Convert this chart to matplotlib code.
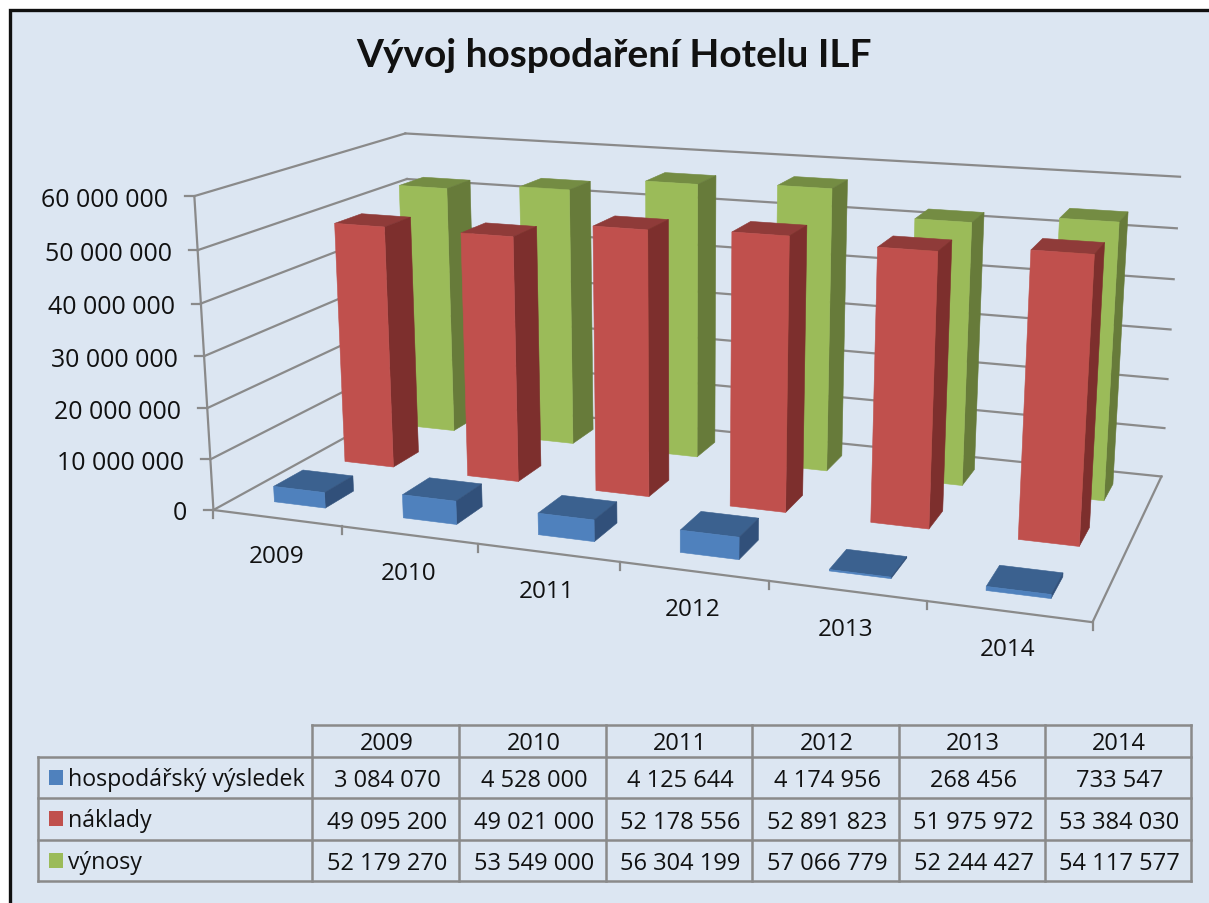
import numpy as np
import matplotlib
matplotlib.use("Agg")
import matplotlib.pyplot as plt
from matplotlib.patches import Polygon, Rectangle

years = ["2009", "2010", "2011", "2012", "2013", "2014"]
vysledek = [3084070, 4528000, 4125644, 4174956, 268456, 733547]
naklady = [49095200, 49021000, 52178556, 52891823, 51975972, 53384030]
vynosy = [52179270, 53549000, 56304199, 57066779, 52244427, 54117577]
series_names = ["hospodářský výsledek", "náklady", "výnosy"]
axis_ticks = [0, 10, 20, 30, 40, 50, 60]
axis_labels = ["0", "10 000 000", "20 000 000", "30 000 000", "40 000 000", "50 000 000", "60 000 000"]
title = "Vývoj hospodaření Hotelu ILF"

FONT = "Open Sans"
BG = "#DCE6F2"
GRID = "#8A8A8A"
FACES = {"front": ["#4F81BD", "#C0504D", "#9BBB59"],
         "top": ["#3B618F", "#8F3B39", "#748C43"],
         "side": ["#31507A", "#7D2F2D", "#677B3A"]}

# Camera calibration: (category, depth, value in millions) -> pixel of the chart frame
CAL = [((0, 0, 0), (213, 510)), ((0, 0, 60), (194, 197)), ((0, 3, 60), (405, 135)),
       ((6, 3, 60), (1180, 178)), ((6, 3, 0), (1161, 477)), ((6, 0, 0), (1092, 621)),
       ((1, 0, 0), (343, 528)), ((2, 0, 0), (477, 547)), ((3, 0, 0), (620, 565)),
       ((5, 0, 0), (927, 603)), ((6, 3, 50), (1177, 229)), ((6, 3, 10), (1165, 429)),
       ((0, 0, 50), (198, 251)), ((0, 0, 10), (211, 458)), ((0, 3, 50), (407, 180))]

rows = []
for (x, y, z), (u, v) in CAL:
    rows.append([x, y, z, 1, 0, 0, 0, 0, -u * x, -u * y, -u * z])
    rows.append([0, 0, 0, 0, x, y, z, 1, -v * x, -v * y, -v * z])
rhs = np.array([c for _, p in CAL for c in p], float)
sol = np.linalg.lstsq(np.array(rows, float), rhs, rcond=None)[0]
P = np.append(sol, 1.0).reshape(3, 4)


def proj(x, y, z):
    h = P @ np.array([x, y, z, 1.0])
    return h[0] / h[2], h[1] / h[2]


fig = plt.figure(figsize=(12.09, 9.04), dpi=100)
ax = fig.add_axes([0, 0, 1, 1])
ax.set_xlim(0, 1209)
ax.set_ylim(904, 0)
ax.axis("off")
ax.add_patch(Rectangle((10, 11), 1300, 1000, fc=BG, ec="#101010", lw=2.4, zorder=0))

ax.text(614, 67, title, fontsize=28, fontweight="bold", family="Lato", ha="center", va="baseline", color="#111111")


def seg(a, b, lw=1.6):
    pa, pb = proj(*a), proj(*b)
    ax.plot([pa[0], pb[0]], [pa[1], pb[1]], color=GRID, lw=lw, solid_capstyle="projecting", zorder=1)


# walls and floor
for t, lab in zip(axis_ticks, axis_labels):
    if t > 0:
        seg((0, 0, t), (0, 3, t))
        seg((0, 3, t), (6, 3, t))
    p = proj(0, 0, t)
    ax.plot([p[0] - 9, p[0]], [p[1], p[1]], color=GRID, lw=1.6, zorder=1)
    ax.text(p[0] - 26, p[1] + 3, lab, ha="right", va="center", fontsize=17.9, family=FONT, color="#111111")
seg((0, 0, 0), (0, 3, 0))
seg((6, 0, 0), (6, 3, 0))
seg((6, 3, 0), (0, 3, 0))
seg((0, 0, 0), (6, 0, 0))
seg((0, 0, 0), (0, 0, 60))
for i in range(7):
    p = proj(i, 0, 0)
    ax.plot([p[0], p[0]], [p[1], p[1] + 8], color=GRID, lw=1.6, zorder=1)
for i, y in enumerate(years):
    p = proj(i + 0.5, 0, 0)
    ax.text(p[0] - 1, p[1] + 38, y, ha="center", va="center", fontsize=17.5, family=FONT, color="#111111")

# bars, back row first
BW = 0.4
z = 2
for r in [2, 1, 0]:
    vals = [vysledek, naklady, vynosy][r]
    for i, v in enumerate(vals):
        h = v / 1e6
        x0, x1 = i + 0.5 - BW / 2, i + 0.5 + BW / 2
        y0, y1 = r + 0.5 - BW / 2, r + 0.5 + BW / 2
        faces = [("top", [(x0, y0, h), (x1, y0, h), (x1, y1, h), (x0, y1, h)]),
                 ("side", [(x1, y0, 0), (x1, y1, 0), (x1, y1, h), (x1, y0, h)]),
                 ("front", [(x0, y0, 0), (x1, y0, 0), (x1, y0, h), (x0, y0, h)])]
        for name, pts in faces:
            ax.add_patch(Polygon([proj(*q) for q in pts], closed=True, fc=FACES[name][r],
                                 ec=FACES[name][r], lw=0.4, zorder=z))
        z += 1

# data table
col_x = [312, 459, 606, 752, 899, 1045, 1191]
row_y = [726, 758, 799, 841, 882]
left = 38
TZ = 100
tline = dict(color=GRID, lw=1.8, zorder=TZ, solid_capstyle="projecting")
ax.plot([col_x[0], col_x[-1]], [row_y[0], row_y[0]], **tline)
for yy in row_y[1:]:
    ax.plot([left, col_x[-1]], [yy, yy], **tline)
for xx in col_x:
    ax.plot([xx, xx], [row_y[0], row_y[-1]], **tline)
ax.plot([left, left], [row_y[1], row_y[-1]], **tline)
for i, y in enumerate(years):
    ax.text((col_x[i] + col_x[i + 1]) / 2 + 1, (row_y[0] + row_y[1]) / 2 + 2, y, ha="center", va="center",
            fontsize=17, family=FONT, color="#111111", zorder=TZ)


def fmt(n):
    return f"{n:,}".replace(",", " ")


for r, (name, vals) in enumerate(zip(series_names, [vysledek, naklady, vynosy])):
    yc = (row_y[r + 1] + row_y[r + 2]) / 2
    ax.add_patch(Rectangle((48.5, yc - 8), 14, 15, fc=FACES["front"][r], ec="none", zorder=TZ))
    ax.text(68.5, yc + 1.5, name, ha="left", va="center", fontsize=16.7, family=FONT, color="#111111", zorder=TZ)
    for i, v in enumerate(vals):
        ax.text((col_x[i] + col_x[i + 1]) / 2 + 1.5, yc + 3, fmt(v), ha="center", va="center",
                fontsize=17, family=FONT, color="#111111", zorder=TZ)

fig.savefig("out.png", dpi=100, facecolor="white")
